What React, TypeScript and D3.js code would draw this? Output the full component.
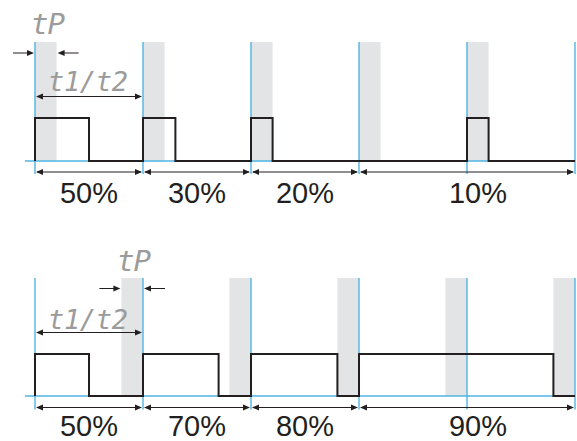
import React from "react";
import * as d3 from "d3";

// time is measured in units of t1/t2 (one cycle period)
const periods = [0, 1, 2, 3, 4, 5];
const tP = 0.2;

const topPulses: [number, number][] = [[0, 0.5], [1, 1.3], [2, 2.2], [4, 4.2]];
const topSegments = [
  { label: "50%", start: 0, end: 1 },
  { label: "30%", start: 1, end: 2 },
  { label: "20%", start: 2, end: 3 },
  { label: "10%", start: 3, end: 5 },
];
const topBands = [0, 1, 2, 3, 4]; // band starts (tP after each cycle start)

const bottomPulses: [number, number][] = [[0, 0.5], [1, 1.7], [2, 2.8], [3, 4.8]];
const bottomSegments = [
  { label: "50%", start: 0, end: 1 },
  { label: "70%", start: 1, end: 2 },
  { label: "80%", start: 2, end: 3 },
  { label: "90%", start: 3, end: 5 },
];
const bottomBands = [1, 2, 3, 4, 5]; // band ends (tP before each cycle start)

const BLUE = "#4fb4e4";
const GREY = "#e3e4e5";
const INK = "#231f20";
const SEG = "#9b9b9b";

const x = d3.scaleLinear().domain([0, 5]).range([35, 575]);

function head(xt: number, y: number, dir: number, len = 7, hw = 3) {
  return `M${xt},${y}L${xt - dir * len},${y - hw}L${xt - dir * len},${y + hw}Z`;
}

function signalPath(pulses: [number, number][], y: d3.ScaleLinear<number, number>) {
  const pts: [number, number][] = [];
  let t = 0;
  pulses.forEach(([a, b], i) => {
    if (i === 0 && a === 0) {
      pts.push([x(0), y(0)]);
    } else {
      pts.push([x(t), y(0)]);
    }
    pts.push([x(a), y(0)], [x(a), y(1)], [x(b), y(1)], [x(b), y(0)]);
    t = b;
  });
  pts.push([x(5), y(0)]);
  return d3.line()(pts) as string;
}

function Panel({
  pulses, segments, bands, bandsAfter, yBase, yHigh, yTop, yArrow, yLabel,
  tpTextX, tpTextY, tpArrowY, tpAt, t12TextY, t12ArrowY,
}: any) {
  const y = d3.scaleLinear().domain([0, 1]).range([yBase, yHigh]);
  return (
    <g>
      {bands.map((b: number, i: number) => {
        const x0 = bandsAfter ? x(b) : x(b - tP);
        return (
          <rect key={"b" + i} x={x0} y={yTop} width={x(tP) - x(0)} height={yBase - yTop} fill={GREY} />
        );
      })}
      <line x1={25} x2={x(5)} y1={yBase} y2={yBase} stroke={BLUE} strokeWidth={1.3} />
      {periods.map((p) => (
        <line key={"v" + p} x1={x(p)} x2={x(p)} y1={yTop} y2={yArrow + 2} stroke={BLUE} strokeWidth={1.4} />
      ))}
      <path d={signalPath(pulses, y)} fill="none" stroke={INK} strokeWidth={2} strokeLinejoin="miter" />
      {segments.map((s: any, i: number) => {
        const x0 = x(s.start), x1 = x(s.end);
        const span = s.end - s.start;
        const cx = (x0 + x1) / 2 + (span > 1 ? 11 : 0);
        return (
          <g key={"s" + i}>
            <line x1={x0 + 2} x2={x1 - 2} y1={yArrow} y2={yArrow} stroke={INK} strokeWidth={1} />
            <path d={head(x0 + 1, yArrow, -1)} fill={INK} />
            <path d={head(x1 - 1, yArrow, 1)} fill={INK} />
            <text x={cx} y={yLabel} textAnchor="middle" fontFamily="Liberation Sans, Arial, sans-serif" fontSize={29} fill={INK}>
              {s.label}
            </text>
          </g>
        );
      })}
      {/* tP markers */}
      <text x={tpTextX} y={tpTextY} fontFamily="DejaVu Sans Mono, monospace" fontStyle="italic" fontWeight={300}
        fontSize={29} fill={SEG} textLength={34} lengthAdjust="spacing">tP</text>
      <line x1={tpAt[0] - 22} x2={tpAt[0] - 3} y1={tpArrowY} y2={tpArrowY} stroke={INK} strokeWidth={1} />
      <path d={head(tpAt[0] - 1, tpArrowY, 1)} fill={INK} />
      <line x1={tpAt[1] + 3} x2={tpAt[1] + 22} y1={tpArrowY} y2={tpArrowY} stroke={INK} strokeWidth={1} />
      <path d={head(tpAt[1] + 1, tpArrowY, -1)} fill={INK} />
      {/* t1/t2 marker */}
      <text x={48} y={t12TextY} fontFamily="DejaVu Sans Mono, monospace" fontStyle="italic" fontWeight={300}
        fontSize={27} fill={SEG} textLength={80} lengthAdjust="spacing">t1/t2</text>
      <line x1={x(0) + 3} x2={x(1) - 3} y1={t12ArrowY} y2={t12ArrowY} stroke={INK} strokeWidth={1} />
      <path d={head(x(0) + 1, t12ArrowY, -1)} fill={INK} />
      <path d={head(x(1) - 1, t12ArrowY, 1)} fill={INK} />
    </g>
  );
}

export default function App() {
  return (
    <svg width={577} height={441} style={{ position: "absolute", left: 0, top: 0, background: "#fff" }}>
      <Panel
        pulses={topPulses} segments={topSegments} bands={topBands} bandsAfter={true}
        yBase={161} yHigh={118} yTop={42} yArrow={172} yLabel={203}
        tpTextX={31} tpTextY={34} tpArrowY={53} tpAt={[x(0), x(tP)]}
        t12TextY={91} t12ArrowY={96.5}
      />
      <Panel
        pulses={bottomPulses} segments={bottomSegments} bands={bottomBands} bandsAfter={false}
        yBase={396} yHigh={354} yTop={278} yArrow={407.5} yLabel={436}
        tpTextX={117} tpTextY={271} tpArrowY={288.5} tpAt={[x(1 - tP), x(1)]}
        t12TextY={329} t12ArrowY={332.5}
      />
    </svg>
  );
}
